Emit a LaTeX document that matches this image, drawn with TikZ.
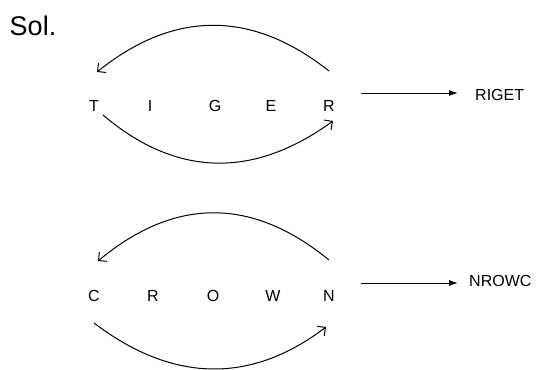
\documentclass[tikz,border=0pt]{standalone}
\usepackage{fontspec}
\setmainfont{Liberation Sans}
\usetikzlibrary{arrows.meta}
\begin{document}
\begin{tikzpicture}[x=1pt,y=-1pt,
  letter/.style={inner sep=0pt,font=\fontsize{16}{18}\selectfont},
  result/.style={inner sep=0pt,font=\fontsize{16}{18}\selectfont},
  swaparc/.style={line width=1pt,-{Straight Barb[length=6pt,width=12pt,line width=1pt]}},
  outarrow/.style={line width=1pt,-{Latex[length=9pt,width=6pt]}}]
\useasboundingbox (0,0) rectangle (539,370);
\node[inner sep=0pt,font=\fontsize{27}{30}\selectfont] (sol) at (33,26) {Sol.};
% TIGER
\node[letter] (t1) at (94,106) {T};
\node[letter] (t2) at (150,106) {I};
\node[letter] (t3) at (215,106) {G};
\node[letter] (t4) at (271,106) {E};
\node[letter] (t5) at (329,106) {R};
\coordinate (ta) at (329,71);
\coordinate (tb) at (97,72);
\coordinate (tc) at (103,115);
\coordinate (td) at (333,121);
\draw[swaparc] (ta) .. controls (252,10) and (174,10) .. (tb);
\draw[swaparc] (tc) .. controls (176,177) and (253,179) .. (td);
\coordinate (tr) at (361,93);
\node[result,anchor=west] (riget) at (475,95) {RIGET};
\draw[outarrow] (tr) -- ([xshift=-17pt]riget.west |- tr);
% CROWN
\node[letter] (c1) at (94,296) {C};
\node[letter] (c2) at (153,296) {R};
\node[letter] (c3) at (213,296) {O};
\node[letter] (c4) at (273,296) {W};
\node[letter] (c5) at (329,296) {N};
\coordinate (ca) at (329,260);
\coordinate (cb) at (98,261);
\coordinate (cc) at (94,323);
\coordinate (cd) at (326,327);
\draw[swaparc] (ca) .. controls (252,197) and (175,197) .. (cb);
\draw[swaparc] (cc) .. controls (173,383) and (251,384) .. (cd);
\coordinate (cr) at (361,283);
\node[result,anchor=west] (nrowc) at (469,281) {NROWC};
\draw[outarrow] (cr) -- ([xshift=-11pt]nrowc.west |- cr);
\end{tikzpicture}
\end{document}
